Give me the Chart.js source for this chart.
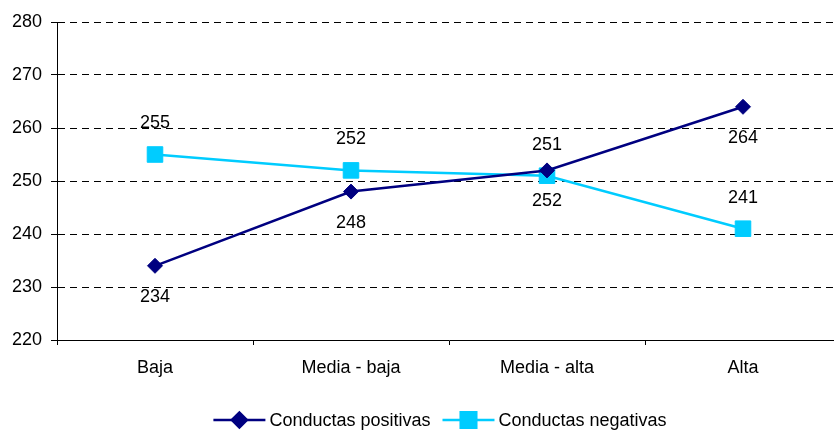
<!DOCTYPE html>
<html>
<head>
<meta charset="utf-8">
<script src="https://cdn.jsdelivr.net/npm/chart.js@4"></script>
<style>
  html, body { margin: 0; padding: 0; background: #fff; overflow: hidden; }
  #wrap { width: 880px; height: 430px; position: relative; }
</style>
</head>
<body>
<div id="wrap"><canvas id="chart"></canvas></div>
<script>
const categories = ['Baja', 'Media - baja', 'Media - alta', 'Alta'];
const positivas = [234, 248, 252, 264];
const negativas = [255, 252, 251, 241];
const seriesNames = ['Conductas positivas', 'Conductas negativas'];
const yTicks = [220, 230, 240, 250, 260, 270, 280];

const FONT = '"Liberation Sans", Arial, sans-serif';
const FSIZE = 18;

// value labels: positive below the point, negative above
const valueLabels = {
  id: 'valueLabels',
  afterDatasetsDraw(chart) {
    const ctx = chart.ctx;
    ctx.save();
    ctx.font = FSIZE + 'px ' + FONT;
    ctx.fillStyle = '#000';
    ctx.textAlign = 'center';
    ctx.textBaseline = 'middle';
    chart.data.datasets.forEach((ds, i) => {
      const meta = chart.getDatasetMeta(i);
      meta.data.forEach((pt, j) => {
        const dy = i === 0 ? 31 : -31;
        ctx.fillText(String(ds.data[j]), pt.x, pt.y + dy);
      });
    });
    ctx.restore();
  }
};

// legend drawn like the original: line with the marker in the middle
const lineLegend = {
  id: 'lineLegend',
  afterDraw(chart) {
    const ctx = chart.ctx;
    ctx.save();
    ctx.font = FSIZE + 'px ' + FONT;
    const lineW = 52, gap = 4, between = 12;
    const widths = chart.data.datasets.map(ds => ctx.measureText(ds.label).width);
    const total = widths.reduce((a, w) => a + lineW + gap + w, 0) + between;
    let x = chart.width / 2 - total / 2;
    const y = 420;
    chart.data.datasets.forEach((ds, i) => {
      ctx.strokeStyle = ds.borderColor;
      ctx.lineWidth = 2.5;
      ctx.beginPath();
      ctx.moveTo(x, y);
      ctx.lineTo(x + lineW, y);
      ctx.stroke();
      Chart.helpers.drawPoint(ctx, {
        pointStyle: ds.pointStyle,
        radius: ds.pointRadius,
        borderWidth: 1,
        rotation: 0
      }, x + lineW / 2, y);
      ctx.fillStyle = ds.borderColor;
      ctx.strokeStyle = ds.borderColor;
      ctx.lineWidth = 1;
      ctx.fill();
      ctx.stroke();
      ctx.fillStyle = '#000';
      ctx.textAlign = 'left';
      ctx.textBaseline = 'middle';
      ctx.fillText(ds.label, x + lineW + gap, y + 1);
      x += lineW + gap + widths[i] + between;
    });
    ctx.restore();
  }
};

new Chart(document.getElementById('chart'), {
  type: 'line',
  data: {
    labels: categories,
    datasets: [
      {
        label: seriesNames[0],
        data: positivas,
        borderColor: '#000080',
        backgroundColor: '#000080',
        borderWidth: 2.5,
        pointStyle: 'rectRot',
        pointRadius: 7.5,
        pointBorderWidth: 1,
        pointHoverRadius: 7.5,
        tension: 0
      },
      {
        label: seriesNames[1],
        data: negativas,
        borderColor: '#00CCFF',
        backgroundColor: '#00CCFF',
        borderWidth: 2.5,
        pointStyle: 'rect',
        pointRadius: 11,
        pointBorderWidth: 1,
        pointHoverRadius: 11,
        tension: 0
      }
    ]
  },
  options: {
    responsive: true,
    maintainAspectRatio: false,
    animation: false,
    layout: { padding: { top: 22, left: 0, right: 39, bottom: 50 } },
    plugins: {
      legend: { display: false },
      tooltip: { enabled: false }
    },
    scales: {
      x: {
        offset: true,
        grid: {
          offset: true,
          drawOnChartArea: false,
          drawTicks: true,
          tickLength: 5,
          color: '#000'
        },
        border: { color: '#000', width: 1 },
        ticks: {
          color: '#000',
          font: { family: FONT, size: FSIZE },
          padding: 12,
          maxRotation: 0
        },
        afterFit(scale) { scale.height = 40; }
      },
      y: {
        min: 220,
        max: 280,
        afterBuildTicks(scale) { scale.ticks = yTicks.map(v => ({ value: v })); },
        grid: {
          color: '#000',
          lineWidth: 1,
          drawTicks: true,
          tickLength: 6,
          tickBorderDash: [],
          tickColor: '#000'
        },
        border: { color: '#000', width: 1, dash: [7, 5] },
        ticks: {
          color: '#000',
          font: { family: FONT, size: FSIZE },
          padding: 9
        },
        afterFit(scale) { scale.width = 57; }
      }
    }
  },
  plugins: [valueLabels, lineLegend]
});
</script>
</body>
</html>
